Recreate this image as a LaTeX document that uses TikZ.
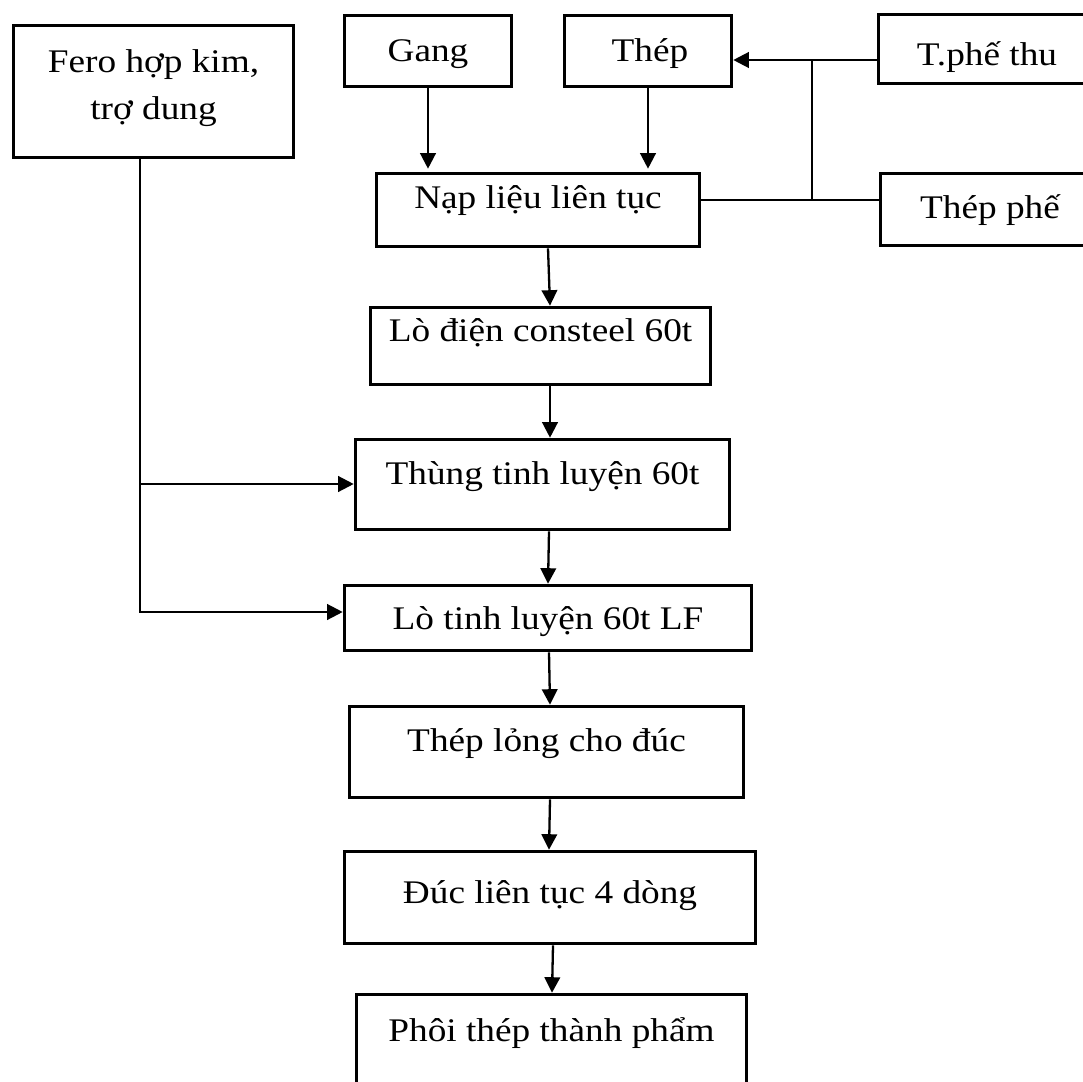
\documentclass[tikz,border=0pt]{standalone}
\usepackage{fontspec}
\setmainfont{Liberation Serif}
\usetikzlibrary{arrows.meta}
\newcommand{\widetxt}[1]{\scalebox{1.13}[1]{#1}}
\begin{document}
\begin{tikzpicture}[x=1pt,y=-1pt,
  box/.style={draw, line width=3.6pt, rectangle, inner sep=0pt},
  lbl/.style={anchor=base, inner sep=0pt, font=\fontsize{33}{40}\selectfont},
  conn/.style={line width=2.3pt},
  arr/.style={conn, -{Triangle[length=15.5pt,width=15.5pt]}}]
\useasboundingbox (0,0) rectangle (1083,1081);
\clip (0,0) rectangle (1083,1081);
\fill[white] (0,0) rectangle (1083,1081);
% boxes
\node[box, minimum width=280pt, minimum height=132pt] (fero) at (153.5,91.5) {};
\node[box, minimum width=167pt, minimum height=71pt] (gang) at (428,51) {};
\node[box, minimum width=167pt, minimum height=71pt] (thep) at (648,51) {};
\node[box, minimum width=217pt, minimum height=69pt] (tphe) at (987,49) {};
\node[box, minimum width=219pt, minimum height=72pt] (thepphe) at (990,209.5) {};
\node[box, minimum width=323pt, minimum height=73pt] (nap) at (538,210) {};
\node[box, minimum width=340pt, minimum height=77pt] (lodien) at (540.5,346) {};
\node[box, minimum width=374pt, minimum height=90pt] (thung) at (542.5,484.5) {};
\node[box, minimum width=407pt, minimum height=65pt] (lotinh) at (548,618) {};
\node[box, minimum width=394pt, minimum height=91pt] (theplong) at (546.5,752) {};
\node[box, minimum width=411pt, minimum height=92pt] (duc) at (550,897.5) {};
\node[box, minimum width=390pt, minimum height=124pt] (phoi) at (551.5,1056.5) {};
% labels
\node[lbl] (tfero1) at (153.5,72) {\widetxt{Fero hợp kim,}};
\node[lbl] (tfero2) at (153.5,119) {\widetxt{trợ dung}};
\node[lbl] (tgang) at (428,61) {\widetxt{Gang}};
\node[lbl] (tthep) at (650,61) {\widetxt{Thép}};
\node[lbl] (ttphe) at (987,65) {\widetxt{T.phế thu}};
\node[lbl] (tthepphe) at (990,218) {\widetxt{Thép phế}};
\node[lbl] (tnap) at (538,208) {\widetxt{Nạp liệu liên tục}};
\node[lbl] (tlodien) at (540.5,341) {\widetxt{Lò điện consteel 60t}};
\node[lbl] (tthung) at (542.5,484) {\widetxt{Thùng tinh luyện 60t}};
\node[lbl] (tlotinh) at (548,629) {\widetxt{Lò tinh luyện 60t LF}};
\node[lbl] (ttheplong) at (546.5,751) {\widetxt{Thép lỏng cho đúc}};
\node[lbl] (tduc) at (550,903) {\widetxt{Đúc liên tục 4 dòng}};
\node[lbl] (tphoi) at (551.5,1041) {\widetxt{Phôi thép thành phẩm}};
% connectors
\draw[arr] (gang.south) -- ([yshift=3pt]gang.south |- nap.north);
\draw[arr] (thep.south) -- ([yshift=3pt]thep.south |- nap.north);
\coordinate (j1) at (812,60);
\coordinate (j2) at (812,200);
\draw[conn] (tphe.west |- j1) -- (j1);
\draw[arr] (j1) -- (thep.east |- j1);
\draw[conn] (j1) -- (j2);
\draw[conn] (thepphe.west |- j2) -- (nap.east |- j2);
\draw[arr] ([xshift=10pt]nap.south) -- ([xshift=9.5pt]lodien.north);
\draw[arr] ([xshift=9.5pt]lodien.south) -- ([xshift=7.5pt]thung.north);
\draw[arr] ([xshift=6.5pt]thung.south) -- (lotinh.north);
\draw[arr] ([xshift=1pt]lotinh.south) -- ([xshift=3.5pt]theplong.north);
\draw[arr] ([xshift=3.5pt]theplong.south) -- ([xshift=-1pt]duc.north);
\draw[arr] ([xshift=3pt]duc.south) -- ([xshift=0.5pt]phoi.north);
\coordinate (f1) at (140,484);
\coordinate (f2) at (140,612);
\draw[arr] (fero.south -| f1) -- (f2) -- (f2 -| lotinh.west);
\draw[arr] (f1) -- (f1 -| thung.west);
\end{tikzpicture}
\end{document}
